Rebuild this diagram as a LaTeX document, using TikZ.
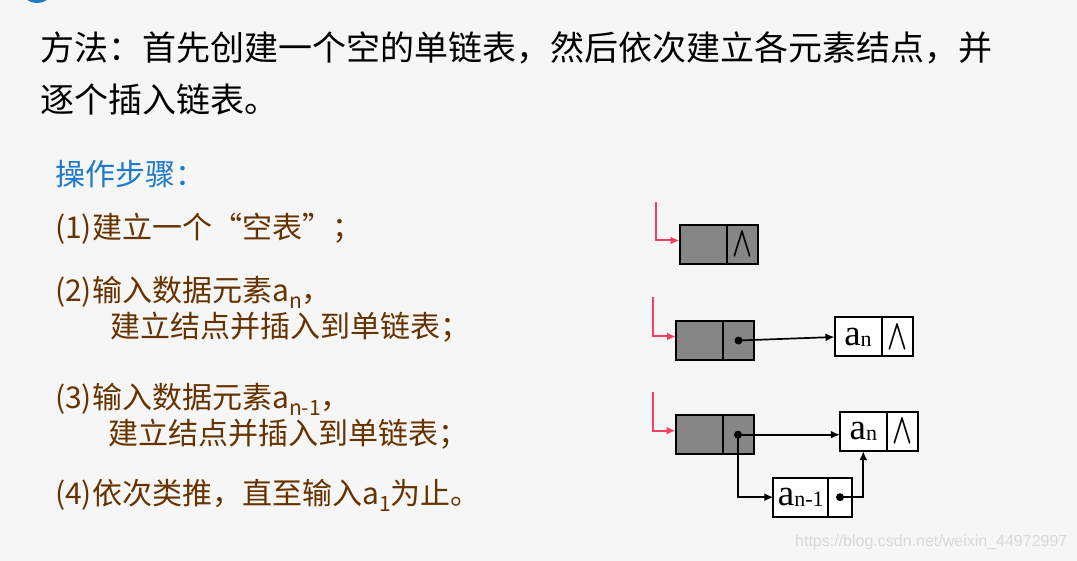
\documentclass[tikz,border=0pt]{standalone}
\usepackage{fontspec}
\usepackage{graphicx}
\usetikzlibrary{arrows.meta,positioning}
\newfontfamily\cjk{Noto Sans CJK SC}
\newfontfamily\tnr{Liberation Serif}
\newfontfamily\wmfont{Liberation Sans}
\definecolor{bgcol}{HTML}{F6F6F6}
\definecolor{stepbrown}{HTML}{663300}
\definecolor{headblue}{HTML}{1E7AC8}
\definecolor{linkred}{HTML}{F5405E}
\definecolor{nodegray}{HTML}{868686}
\newcommand{\nil}{\resizebox{20pt}{24pt}{\boldmath$\wedge$}}
\newcommand{\elem}[1]{{\tnr\fontsize{37}{37}\selectfont a\raisebox{-1pt}{\fontsize{22}{22}\selectfont #1}}}
\newcommand{\subsc}[1]{\raisebox{-7pt}{\fontsize{21}{21}\selectfont #1}}

\begin{document}
\begin{tikzpicture}[x=1pt,y=-1pt,
  cell/.style={draw,line width=2pt,outer sep=0pt,inner sep=0pt,minimum height=39pt},
  gdat/.style={cell,fill=nodegray,minimum width=47pt},
  gptr/.style={cell,fill=nodegray,minimum width=31pt},
  wdat/.style={cell,fill=white,minimum width=47pt},
  wptr/.style={cell,fill=white,minimum width=31pt},
  txt/.style={anchor=base west,inner sep=0pt},
  main/.style={txt,font=\cjk\fontsize{34}{40}\selectfont,text=black},
  stp/.style={txt,font=\cjk\fontsize{30}{36}\selectfont,text=stepbrown},
  arr/.style={-{Latex[length=9pt,width=8pt]},line width=1.7pt},
  redarr/.style={arr,draw=linkred,line width=2pt}]
\useasboundingbox (0,0) rectangle (1077,561);
\fill[bgcol] (0,0) rectangle (1077,561);
\begin{scope}
\clip (0,0) rectangle (1077,561);
\fill[headblue] (37,-14) circle (17pt);
\end{scope}
\node[main] (l1) at (40,60.5) {方法：首先创建一个空的单链表，然后依次建立各元素结点，并};
\node[main] (l2) at (40,113) {逐个插入链表。};
\node[stp,text=headblue] (hd) at (55,185.5) {操作步骤：};
\node[stp] (s1) at (55,238.5) {(1)建立一个“空表”；};
\node[stp] (s2) at (55,301.5) {(2)输入数据元素a\subsc{n}，};
\node[stp] (s2b) at (110,337.5) {建立结点并插入到单链表；};
\node[stp] (s3) at (55,408.5) {(3)输入数据元素a\subsc{n-1}，};
\node[stp] (s3b) at (108,444.5) {建立结点并插入到单链表；};
\node[stp] (s4) at (55,504.5) {(4)依次类推，直至输入a\subsc{1}为止。};
\node[gdat] (h1) at (703,244.5) {};
\node[gptr,right=0pt of h1] (h1n) {\nil};
\coordinate (r1) at (655.7,202);
\draw[redarr] (r1) |- ([yshift=4pt]h1.west);
\node[gdat] (h2) at (699.5,340.5) {};
\node[gptr,right=0pt of h2] (h2n) {};
\node[wdat] (a2) at (858,337) {\elem{n}};
\node[wptr,right=0pt of a2] (a2n) {\nil};
\coordinate (r2) at (653.3,297);
\draw[redarr] (r2) |- ([yshift=4pt]h2.west);
\draw[arr] (h2n.center) -- (a2.west); \fill (h2n.center) circle (4pt);
\node[gdat] (h3) at (699,434.7) {};
\node[gptr,right=0pt of h3] (h3n) {};
\node[wdat] (a3) at (863.3,431.7) {\elem{n}};
\node[wptr,right=0pt of a3] (a3n) {\nil};
\node[wdat,minimum width=55pt,anchor=west] (b3) at (773.3,497.2) {\elem{n-1}};
\node[wptr,minimum width=23.4pt,right=0pt of b3] (b3n) {};
\coordinate (r3) at (652.7,392.3);
\draw[redarr] (r3) |- ([yshift=4pt]h3.west);
\draw[arr] (h3n.center) -- (h3n.center -| a3.west);
\draw[arr] (h3n.center) |- (b3.west);
\draw[arr] (b3n.center) -| (a3.south);
\fill (h3n.center) circle (4pt); \fill (b3n.center) circle (4pt);
\node[anchor=west,inner sep=0pt,font=\wmfont\fontsize{16}{16}\selectfont,text=black!15] (wm) at (795,542) {https://blog.csdn.net/weixin\_44972997};
\end{tikzpicture}
\end{document}
